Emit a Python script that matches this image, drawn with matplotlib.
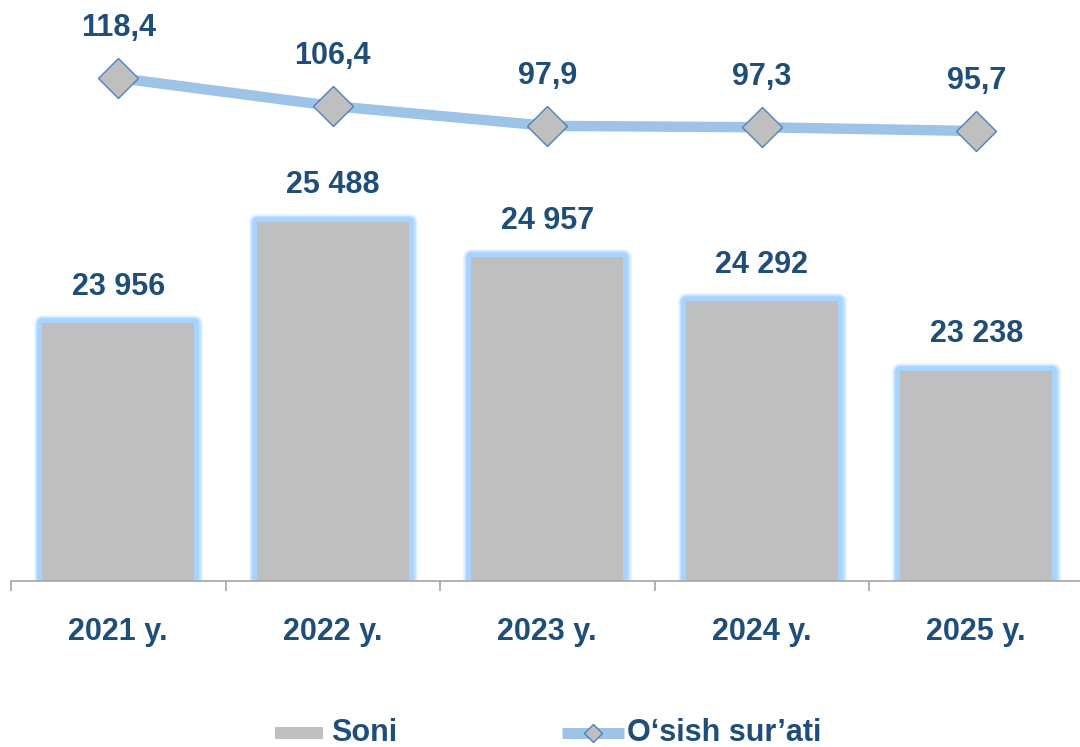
import matplotlib
matplotlib.use("Agg")
import matplotlib.pyplot as plt
from matplotlib.patches import Rectangle
from matplotlib.lines import Line2D

categories = ["2021 y.", "2022 y.", "2023 y.", "2024 y.", "2025 y."]
soni = [23956, 25488, 24957, 24292, 23238]
osish = [118.4, 106.4, 97.9, 97.3, 95.7]
soni_labels = ["23 956", "25 488", "24 957", "24 292", "23 238"]
osish_labels = ["118,4", "106,4", "97,9", "97,3", "95,7"]

plt.rcParams['font.family'] = ['Liberation Sans', 'DejaVu Sans']
TXT = "#1F4E79"
GRAY = "#BFBFBF"
GLOW = "#A6D4FF"
LINE = "#9DC3E6"
MEDGE = "#4F81BD"

W, H = 1080, 747
fig = plt.figure(figsize=(W / 100, H / 100), dpi=100)
ax_l = 11 / W
ax_w = 1072.5 / W
ax_b = (H - 581) / H
ax_h = 581 / H
ax = fig.add_axes([ax_l, ax_b, ax_w, ax_h])
ax.set_xlim(-0.5, 4.5)
ax.set_ylim(20060, 20060 + 581 * 15.1)

x = list(range(len(categories)))
bw = 0.71
# soft glow layers around the bars
for lw, a in [(12, 0.3), (9.5, 0.55), (7, 0.9), (4, 1.0)]:
    ax.bar(x, soni, width=bw, color="none", edgecolor=GLOW, linewidth=lw,
           alpha=a, joinstyle="round", zorder=1)
ax.bar(x, soni, width=bw, color=GRAY, edgecolor="none", zorder=2)

for xi, v, lab in zip(x, soni, soni_labels):
    ax.annotate(lab, (xi, v), xytext=(0, 26), textcoords="offset points",
                ha="center", va="center", fontsize=22, fontweight="bold", color=TXT)

for s in ["top", "right", "left"]:
    ax.spines[s].set_visible(False)
ax.spines["bottom"].set_color("#A6A6A6")
ax.spines["bottom"].set_linewidth(1.2)
ax.spines["bottom"].set_zorder(3)
ax.set_yticks([])
ax.set_xticks(x)
ax.set_xticklabels(categories, fontsize=22, fontweight="bold", color=TXT)
ax.tick_params(axis="x", which="major", length=0, pad=26)
ax.set_xticks([-0.5, 0.5, 1.5, 2.5, 3.5, 4.5], minor=True)
ax.tick_params(axis="x", which="minor", length=7, width=1.2, color="#A6A6A6")

ax2 = ax.twinx()
ax2.set_ylim(-97.0, 151.8)
ax2.set_yticks([])
for s in ["top", "right", "left", "bottom"]:
    ax2.spines[s].set_visible(False)
ax2.plot(x, osish, color=LINE, linewidth=7.5, solid_capstyle="butt",
         marker="D", markersize=20, markerfacecolor=GRAY,
         markeredgecolor=MEDGE, markeredgewidth=1.0, zorder=4)
for xi, v, lab in zip(x, osish, osish_labels):
    ax2.annotate(lab, (xi, v), xytext=(0, 36), textcoords="offset points",
                 ha="center", va="center", fontsize=22, fontweight="bold", color=TXT)

# legend (drawn in figure pixels)
def fx(px):
    return px / W
def fy(py):
    return (H - py) / H

ly = 733
fig.patches.append(Rectangle((fx(275), fy(739)), 48 / W, 12 / H, transform=fig.transFigure,
                             facecolor=GRAY, edgecolor="none"))
fig.text(fx(331), fy(ly), "Soni", fontsize=22, fontweight="bold", color=TXT,
         ha="left", va="center")
fig.lines.append(Line2D([fx(562), fx(624)], [fy(ly), fy(ly)], transform=fig.transFigure,
                        color=LINE, linewidth=7.9, solid_capstyle="butt"))
fig.lines.append(Line2D([fx(593)], [fy(ly)], transform=fig.transFigure, linestyle="none",
                        marker="D", markersize=8.8, markerfacecolor=GRAY,
                        markeredgecolor=MEDGE, markeredgewidth=1.0))
fig.text(fx(627), fy(ly), "O\u2018sish sur\u2019ati", fontsize=22, fontweight="bold", color=TXT,
         ha="left", va="center")

fig.savefig("out.png", dpi=100)
